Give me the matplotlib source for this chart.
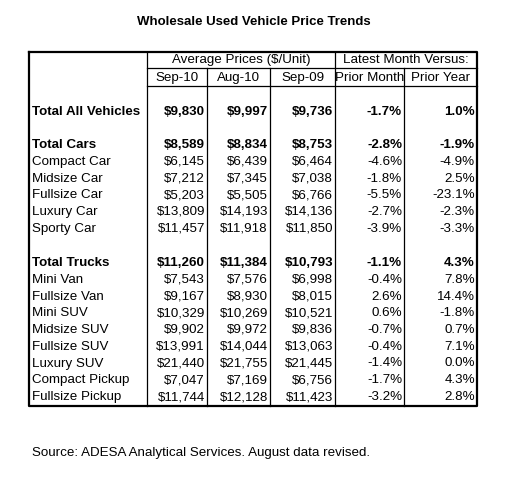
import matplotlib.pyplot as plt

plt.rcParams['font.family'] = ['Liberation Sans', 'DejaVu Sans']

title = "Wholesale Used Vehicle Price Trends"
col_heads = ["Sep-10", "Aug-10", "Sep-09", "Prior Month", "Prior Year"]
labels = ["Total All Vehicles", "Total Cars", "Compact Car", "Midsize Car", "Fullsize Car",
          "Luxury Car", "Sporty Car", "Total Trucks", "Mini Van", "Fullsize Van", "Mini SUV",
          "Midsize SUV", "Fullsize SUV", "Luxury SUV", "Compact Pickup", "Fullsize Pickup"]
sep10 = ["$9,830", "$8,589", "$6,145", "$7,212", "$5,203", "$13,809", "$11,457", "$11,260",
         "$7,543", "$9,167", "$10,329", "$9,902", "$13,991", "$21,440", "$7,047", "$11,744"]
aug10 = ["$9,997", "$8,834", "$6,439", "$7,345", "$5,505", "$14,193", "$11,918", "$11,384",
         "$7,576", "$8,930", "$10,269", "$9,972", "$14,044", "$21,755", "$7,169", "$12,128"]
sep09 = ["$9,736", "$8,753", "$6,464", "$7,038", "$6,766", "$14,136", "$11,850", "$10,793",
         "$6,998", "$8,015", "$10,521", "$9,836", "$13,063", "$21,445", "$6,756", "$11,423"]
prior_month = ["-1.7%", "-2.8%", "-4.6%", "-1.8%", "-5.5%", "-2.7%", "-3.9%", "-1.1%",
               "-0.4%", "2.6%", "0.6%", "-0.7%", "-0.4%", "-1.4%", "-1.7%", "-3.2%"]
prior_year = ["1.0%", "-1.9%", "-4.9%", "2.5%", "-23.1%", "-2.3%", "-3.3%", "4.3%",
              "7.8%", "14.4%", "-1.8%", "0.7%", "7.1%", "0.0%", "4.3%", "2.8%"]
bold_rows = {0, 1, 7}

# row positions in pixels (groups separated by a blank gap)
step = 16.75
row_y = [112] + [145 + i * step for i in range(6)] + [263 + i * step for i in range(9)]

W, H = 508, 479
fig = plt.figure(figsize=(W / 100, H / 100), dpi=100)
ax = fig.add_axes([0, 0, 1, 1])
ax.set_xlim(0, W)
ax.set_ylim(H, 0)
ax.axis('off')

fs = 9.6
ax.text(254, 22, title, ha='center', va='center', fontsize=9.5, fontweight='bold')

x0, x1 = 29, 477
xs = [147, 207, 270, 335, 404]
top, bot = 52, 406
lw = 0.9
ax.plot([x0, x1, x1, x0, x0], [top, top, bot, bot, top], color='black', lw=1.6)
ax.plot([147, 147], [top, bot], color='black', lw=lw)
ax.plot([335, 335], [top, bot], color='black', lw=lw)
for x in [207, 270, 404]:
    ax.plot([x, x], [68, bot], color='black', lw=lw)
ax.plot([147, x1], [68, 68], color='black', lw=lw)
ax.plot([147, x1], [86, 86], color='black', lw=lw)

ax.text(241, 60, "Average Prices ($/Unit)", ha='center', va='center', fontsize=fs)
ax.text(406, 60, "Latest Month Versus:", ha='center', va='center', fontsize=fs)
edges = xs + [x1]
for i, h in enumerate(col_heads):
    ax.text((edges[i] + edges[i + 1]) / 2, 77.5, h, ha='center', va='center', fontsize=fs)

cols = [sep10, aug10, sep09, prior_month, prior_year]
for r, lab in enumerate(labels):
    w = 'bold' if r in bold_rows else 'normal'
    y = row_y[r]
    ax.text(32, y, lab, ha='left', va='center', fontsize=fs, fontweight=w)
    for c, col in enumerate(cols):
        ax.text(edges[c + 1] - 2, y, col[r], ha='right', va='center', fontsize=fs, fontweight=w)

ax.text(32, 453, "Source: ADESA Analytical Services. August data revised.",
        ha='left', va='center', fontsize=fs)

fig.savefig('out.png', dpi=100)
